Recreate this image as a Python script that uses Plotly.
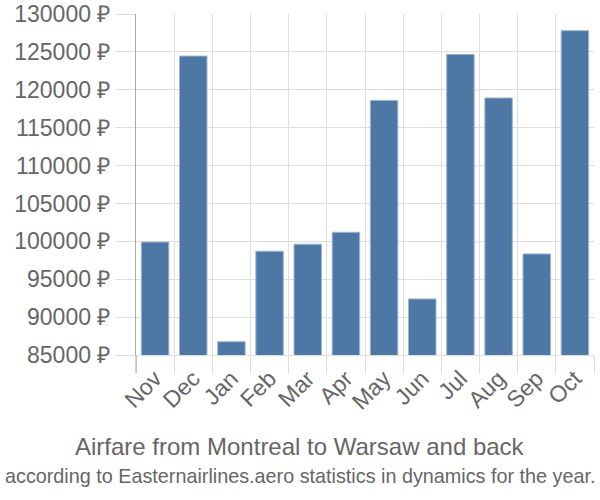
import plotly.graph_objects as go

months = ["Nov", "Dec", "Jan", "Feb", "Mar", "Apr", "May", "Jun", "Jul", "Aug", "Sep", "Oct"]
prices = [99900, 124450, 86750, 98700, 99620, 101200, 118600, 92400, 124680, 118920, 98340, 127800]
y_tick_start, y_tick_step, y_max = 85000, 5000, 130000
title_text = "Airfare from Montreal to Warsaw and back"
subtitle_text = "according to Easternairlines.aero statistics in dynamics for the year."

fig = go.Figure(
    go.Bar(
        x=months,
        y=prices,
        marker=dict(color="#4d78a6", line=dict(color="#9fb6d3", width=1)),
    )
)

plot_left, plot_right = 136, 594
plot_top, plot_bottom = 14, 355


def py(pixel_y):
    return (plot_bottom - pixel_y) / (plot_bottom - plot_top)


px_center = (300 - plot_left) / (plot_right - plot_left)

fig.update_layout(
    width=600,
    height=500,
    margin=dict(l=plot_left, r=600 - plot_right, t=plot_top, b=500 - plot_bottom, autoexpand=False),
    paper_bgcolor="white",
    plot_bgcolor="white",
    bargap=0.28,
    showlegend=False,
    font=dict(family="Liberation Sans, Arial, sans-serif", color="#666666"),
    annotations=[
        dict(text=title_text, x=px_center, xref="paper", xanchor="center",
             y=py(446), yref="paper", yanchor="middle", showarrow=False,
             font=dict(size=24, color="#666666")),
        dict(text=subtitle_text, x=px_center, xref="paper", xanchor="center",
             y=py(476), yref="paper", yanchor="middle", showarrow=False,
             font=dict(size=19.8, color="#666666")),
    ],
    shapes=[
        dict(type="line", xref="paper", yref="paper", x0=0, x1=0,
             y0=py(plot_bottom), y1=py(373), line=dict(color="#aaaaaa", width=1)),
    ],
)

fig.update_xaxes(
    type="category",
    tickson="boundaries",
    showgrid=True,
    gridcolor="#dedede",
    gridwidth=1,
    ticks="outside",
    ticklen=18,
    tickcolor="#dedede",
    tickangle=-45,
    tickfont=dict(size=23, color="#666666"),
    showline=True,
    linecolor="#dedede",
    range=[-0.5, 11.5],
    automargin=False,
)
fig.update_yaxes(
    range=[y_tick_start, y_max],
    tickmode="linear",
    tick0=y_tick_start,
    dtick=y_tick_step,
    tickformat="d",
    ticksuffix=" ₽",
    showticksuffix="all",
    showgrid=True,
    gridcolor="#dedede",
    gridwidth=1,
    ticks="outside",
    ticklen=20,
    tickcolor="#dedede",
    tickfont=dict(size=23, color="#666666"),
    showline=True,
    linecolor="#aaaaaa",
    linewidth=1,
    zeroline=False,
    automargin=False,
)

fig.write_html("out.html")
